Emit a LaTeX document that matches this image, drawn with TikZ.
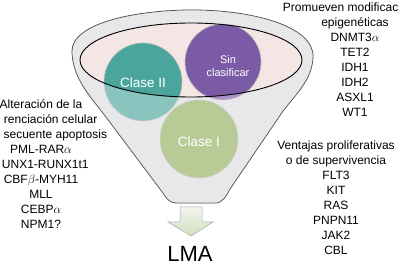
\documentclass[tikz,border=0pt]{standalone}
\usepackage{fontspec}
\setmainfont{Liberation Sans}
\definecolor{funnelgray}{HTML}{DDDDE0}
\definecolor{rimpink}{HTML}{F5E6E6}
\definecolor{tealc}{HTML}{4AA69C}
\definecolor{purplec}{HTML}{7B5BA6}
\definecolor{greenc}{HTML}{93B060}
\definecolor{arrowtop}{HTML}{F2F5EC}
\definecolor{arrowbot}{HTML}{D3DEC0}
\newcommand\funnelpath{(72,52) .. controls (71,22) and (140,10) .. (192,10)
  .. controls (252,10) and (314,26) .. (313,57)
  .. controls (312,80) and (296,94) .. (283,111)
  -- (230,189) .. controls (226,196) and (223,203) .. (215,203)
  -- (176,203) .. controls (170,203) and (166,198) .. (163,193)
  -- (106,117) .. controls (92,98) and (73,80) .. (72,52) -- cycle}
\begin{document}
\begin{tikzpicture}[x=1pt,y=-1pt,
  txt/.style={font=\fontsize{12}{15}\selectfont, align=center, inner sep=0pt, text=black},
  clab/.style={text=white, inner sep=0pt, align=center},
  ball/.style={draw=gray!55, line width=0.6pt}]
\useasboundingbox (0,0) rectangle (400,267);
\clip (0,0) rectangle (400,267);
\fill[white] (0,0) rectangle (400,267);
% funnel body
\filldraw[fill=funnelgray, draw=black!80, line width=0.8pt] \funnelpath;
% inner rim
\fill[rimpink] (191,60) ellipse [x radius=111pt, y radius=37pt];
% balls
\fill[tealc] (143,82) circle (39pt);
\draw[ball] (143,82) circle (39pt);
\fill[purplec] (223,62) circle (38pt);
\draw[ball] (223,62) circle (38pt);
\fill[greenc] (199,139) circle (39pt);
\draw[ball] (199,139) circle (39pt);
% front wall of the funnel (translucent)
\fill[white, opacity=0.35, even odd rule] \funnelpath (191,60) ellipse [x radius=111pt, y radius=37pt];
\draw[black, line width=0.9pt] (191,60) ellipse [x radius=111pt, y radius=37pt];
% ball labels
\node[clab, font=\fontsize{13.5}{16}\selectfont] (c2) at (143,83) {Clase II};
\node[clab, font=\fontsize{11}{12.5}\selectfont] (sc) at (228,66) {Sin\\clasificar};
\node[clab, font=\fontsize{13.5}{16}\selectfont] (c1) at (199,142) {Clase I};
% arrow
\shade[top color=arrowtop, bottom color=arrowbot, draw=gray!70, line width=0.5pt]
  (180,207) -- (202,207) -- (202,222) -- (213,222) -- (191,236) -- (168,222) -- (180,222) -- cycle;
\node[font=\fontsize{22}{26}\selectfont, inner sep=0pt] (lma) at (190,254) {LMA};
% text blocks
\node[txt] (dif) at (41,164) {Alteración de la\\\hphantom{dife}renciación celular\\\hphantom{y con}secuente apoptosis\\PML-RAR$\alpha$\\\hphantom{R}UNX1-RUNX1t1\\CBF$\beta$-MYH11\\MLL\\CEBP$\alpha$\\NPM1?};
\node[txt] (epi) at (355,60) {Promueven modificac\hphantom{iones}\\epigenéticas\\DNMT3$\alpha$\\TET2\\IDH1\\IDH2\\ASXL1\\WT1};
\node[txt] (pro) at (336,197.5) {Ventajas proliferativas\\o de supervivencia\\FLT3\\KIT\\RAS\\PNPN11\\JAK2\\CBL};
\end{tikzpicture}
\end{document}
